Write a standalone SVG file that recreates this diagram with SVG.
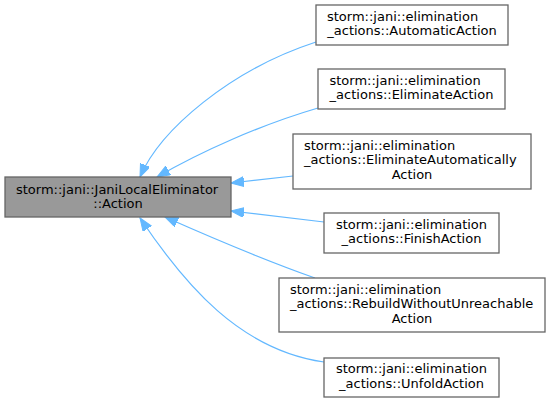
<svg xmlns="http://www.w3.org/2000/svg" width="551" height="403" viewBox="0 0 551 403">
<style>
text{font-family:"DejaVu Sans",sans-serif;font-size:13px;fill:#000}
.n rect{fill:#fff;stroke:#666;stroke-width:1.3}
.base rect{fill:#999;stroke:#666;stroke-width:1.3}
.e path{fill:none;stroke:#63b8ff;stroke-width:1.2;marker-start:url(#ah)}
.m{text-anchor:middle}
</style>
<defs>
<marker id="ah" markerUnits="userSpaceOnUse" markerWidth="14" markerHeight="11" refX="13" refY="5" orient="auto-start-reverse" viewBox="0 0 14 11">
<polygon points="0,0 13,5 0,10" fill="#63b8ff" stroke="#63b8ff"/>
</marker>
</defs>
<g id="edges" class="e">
<path d="M140,177 C160,130 230,70 316,42"/>
<path d="M157,177 C200,152 260,125 318,108"/>
<path d="M231,183 L293,176"/>
<path d="M231,211 L324,222"/>
<path d="M165,217 C210,237 270,262 315,278"/>
<path d="M140,218 C185,285 240,350 324,362"/>
</g>
<g id="base" class="base">
<rect x="5" y="177" width="226" height="40"/>
<text x="16" y="193.5">storm::jani::JaniLocalEliminator</text>
<text class="m" x="118" y="207.5">::Action</text>
</g>
<g id="n1" class="n">
<rect x="316" y="5" width="192" height="40"/>
<text x="327" y="20.5">storm::jani::elimination</text>
<text class="m" x="412" y="35">_actions::AutomaticAction</text>
</g>
<g id="n2" class="n">
<rect x="318" y="69" width="187" height="40"/>
<text x="329.5" y="84.5">storm::jani::elimination</text>
<text class="m" x="411.5" y="99">_actions::EliminateAction</text>
</g>
<g id="n3" class="n">
<rect x="293" y="134" width="238" height="55"/>
<text x="304" y="149.5">storm::jani::elimination</text>
<text x="304" y="164">_actions::EliminateAutomatically</text>
<text class="m" x="412" y="178.5">Action</text>
</g>
<g id="n4" class="n">
<rect x="324" y="213" width="175" height="40"/>
<text class="m" x="411.5" y="228.5">storm::jani::elimination</text>
<text class="m" x="411.5" y="243">_actions::FinishAction</text>
</g>
<g id="n5" class="n">
<rect x="279" y="278" width="266" height="54"/>
<text x="290" y="293.5">storm::jani::elimination</text>
<text x="290" y="308">_actions::RebuildWithoutUnreachable</text>
<text class="m" x="412" y="322.5">Action</text>
</g>
<g id="n6" class="n">
<rect x="324" y="358" width="175" height="39"/>
<text class="m" x="411.5" y="373">storm::jani::elimination</text>
<text class="m" x="411.5" y="387.5">_actions::UnfoldAction</text>
</g>
</svg>
